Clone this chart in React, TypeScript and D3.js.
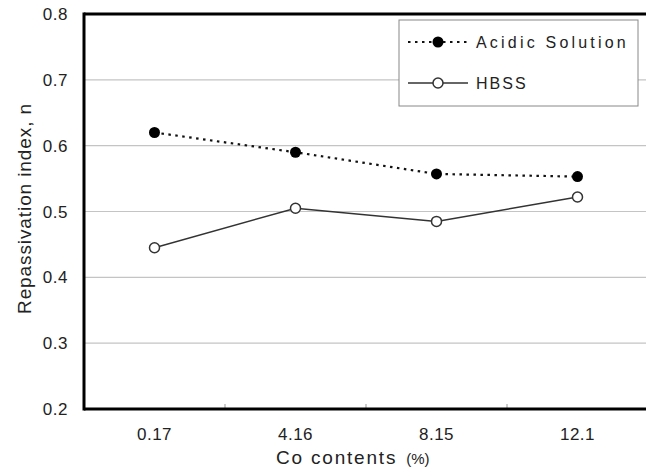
import React from 'react';
import * as d3 from 'd3';

const categories = ['0.17', '4.16', '8.15', '12.1'];
const acidic = [0.62, 0.59, 0.557, 0.553];
const hbss = [0.445, 0.505, 0.485, 0.522];
const yTicks = [0.2, 0.3, 0.4, 0.5, 0.6, 0.7, 0.8];
const gridTicks = [0.3, 0.4, 0.5, 0.6, 0.7];
const seriesNames = ['Acidic Solution', 'HBSS'];

const W = 646;
const H = 471;
const font = '"Liberation Sans", Arial, sans-serif';

const App = () => {
    const left = 84, right = 648, top = 14, bottom = 409;

    const x = d3.scaleBand<string>().domain(categories).range([left, right]);
    const y = d3.scaleLinear().domain([0.2, 0.8]).range([bottom, top]);
    const cx = (c: string) => (x(c) as number) + x.bandwidth() / 2;

    const line = d3.line<number>()
        .x((d, i) => cx(categories[i]))
        .y(d => y(d));

    // inner tick marks at the band boundaries
    const boundaries = categories.slice(1).map(c => x(c) as number);

    return (
        <svg width={W} height={H} style={{ position: 'absolute', left: 0, top: 0, background: '#fff' }}>
            {gridTicks.map(t => (
                <line key={t} x1={left} x2={right} y1={y(t)} y2={y(t)} stroke="#c4c4c4" strokeWidth={1.2} />
            ))}

            {boundaries.map((b, i) => (
                <line key={i} x1={b} x2={b} y1={bottom} y2={bottom - 5} stroke="#999" strokeWidth={1} />
            ))}

            {/* frame */}
            <line x1={left} x2={right} y1={top} y2={top} stroke="#000" strokeWidth={3} />
            <line x1={left} x2={left} y1={top - 1.5} y2={bottom + 1.5} stroke="#000" strokeWidth={3} />
            <line x1={left} x2={right} y1={bottom} y2={bottom} stroke="#000" strokeWidth={3} />

            {yTicks.map(t => (
                <text key={t} x={68} y={y(t)} dy="0.36em" textAnchor="end" fontFamily={font} fontSize={17} fill="#222" letterSpacing={0.5}>
                    {t.toFixed(1)}
                </text>
            ))}

            {categories.map(c => (
                <text key={c} x={cx(c)} y={440} textAnchor="middle" fontFamily={font} fontSize={17} fill="#222" letterSpacing={0.5}>
                    {c}
                </text>
            ))}

            <text x={276} y={464} fontFamily={font} fontSize={19} fill="#222" letterSpacing={1.8}>
                Co contents<tspan fontSize={15} dx={9} letterSpacing={0}>(%)</tspan>
            </text>

            <text transform={`translate(31,${(top + bottom) / 2 - 3}) rotate(-90)`} textAnchor="middle" fontFamily={font} fontSize={19} fill="#222" letterSpacing={0.9}>
                Repassivation index, n
            </text>

            {/* series */}
            <path d={line(acidic) as string} fill="none" stroke="#111" strokeWidth={2.2} strokeDasharray="2.5,4.5" />
            <path d={line(hbss) as string} fill="none" stroke="#333" strokeWidth={1.5} />
            {acidic.map((v, i) => (
                <circle key={i} cx={cx(categories[i])} cy={y(v)} r={5.5} fill="#000" />
            ))}
            {hbss.map((v, i) => (
                <circle key={i} cx={cx(categories[i])} cy={y(v)} r={5} fill="#fff" stroke="#333" strokeWidth={1.5} />
            ))}

            {/* legend */}
            <rect x={399} y={20} width={239} height={86} fill="#fff" stroke="#888" strokeWidth={1} />
            <line x1={408} x2={468} y1={42} y2={42} stroke="#111" strokeWidth={2.2} strokeDasharray="2.5,4.5" />
            <circle cx={438} cy={42} r={5.5} fill="#000" />
            <text x={476} y={42} dy="0.36em" fontFamily={font} fontSize={16} fill="#222" letterSpacing={3.2}>
                {seriesNames[0]}
            </text>
            <line x1={408} x2={468} y1={83} y2={83} stroke="#333" strokeWidth={1.5} />
            <circle cx={438} cy={83} r={5} fill="#fff" stroke="#333" strokeWidth={1.5} />
            <text x={476} y={83} dy="0.36em" fontFamily={font} fontSize={16} fill="#222" letterSpacing={2}>
                {seriesNames[1]}
            </text>
        </svg>
    );
};

export default App;
